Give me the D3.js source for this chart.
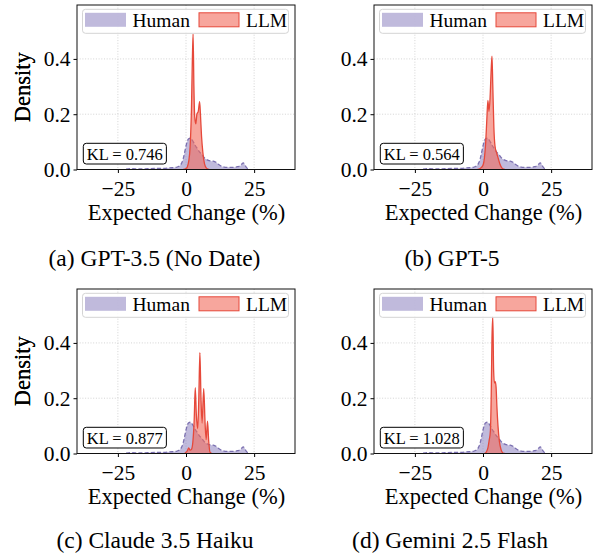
<!DOCTYPE html>
<html><head><meta charset="utf-8">
<script src="https://cdn.jsdelivr.net/npm/d3@7"></script>
<style>
body{margin:0;background:#fff}
svg{display:block}
text{font-family:"Liberation Serif","Times New Roman",Times,serif;fill:#000}
</style>
</head><body>
<svg id="c" width="595" height="553"></svg>
<script>
// ---------- data ----------
const captions = ["(a) GPT-3.5 (No Date)", "(b) GPT-5", "(c) Claude 3.5 Haiku", "(d) Gemini 2.5 Flash"];
const klValues = ["0.746", "0.564", "0.877", "1.028"];
const seriesNames = ["Human", "LLM"];
const xTicks = [-25, 0, 25];
const yTicks = [0.0, 0.2, 0.4];
const xDomain = [-40, 40];
const yDomain = [0, 0.595];

// Human density (same for every panel)
const humanX = [-22,-20,-17,-14,-11,-8,-6,-4,-3,-2,-1.5,-1,-0.5,0,0.5,1,1.5,2,2.5,3,3.5,4,4.5,5,5.5,6,7,8,9,10,11,12,13,14,15,16,17,18,19,20,20.5,21,21.5,22,22.5,23];
const humanY = [0.001,0.003,0.002,0.003,0.004,0.004,0.006,0.007,0.010,0.016,0.025,0.040,0.062,0.085,0.103,0.111,0.113,0.110,0.103,0.094,0.085,0.078,0.070,0.063,0.058,0.052,0.040,0.034,0.031,0.030,0.026,0.018,0.012,0.009,0.008,0.008,0.008,0.008,0.010,0.014,0.020,0.024,0.019,0.010,0.004,0.001];

// LLM densities
const gpt35X = [-1,0,0.5,1,1.5,2,2.3,2.6,2.9,3.2,3.6,4,4.5,5,5.3,5.7,6.2,6.8,7.5,8.5];
const gpt35Y = [0,0.003,0.01,0.03,0.08,0.22,0.38,0.49,0.30,0.19,0.165,0.20,0.21,0.245,0.20,0.12,0.06,0.02,0.005,0];
const gpt5X = [-2,-1,0,0.5,1,1.4,1.8,2.2,2.6,3.0,3.3,3.6,4.0,4.4,5.0,5.6,6.2,7.0,8];
const gpt5Y = [0,0.004,0.015,0.04,0.10,0.18,0.25,0.21,0.26,0.36,0.41,0.30,0.15,0.085,0.06,0.04,0.02,0.005,0];
const claudeX = [-0.5,0.5,1.0,1.5,2.0,2.5,3.0,3.4,3.8,4.3,4.7,5.1,5.5,5.9,6.5,7.0,7.4,7.9,8.3,8.8,9.5];
const claudeY = [0,0.01,0.02,0.012,0.015,0.04,0.12,0.238,0.14,0.09,0.2,0.365,0.2,0.11,0.235,0.11,0.05,0.117,0.05,0.005,0];
const geminiX = [0.5,1.2,1.8,2.3,2.7,3.0,3.3,3.6,3.9,4.2,4.5,4.8,5.1,5.5,6.0,6.6,7.3,8];
const geminiY = [0,0.005,0.02,0.05,0.08,0.2,0.42,0.495,0.30,0.255,0.26,0.24,0.17,0.10,0.045,0.015,0.002,0];

const llmXs = [gpt35X, gpt5X, claudeX, geminiX];
const llmYs = [gpt35Y, gpt5Y, claudeY, geminiY];

// ---------- layout / style ----------
const W = 218, H = 164.5;
const origins = [[77,5],[374,5],[77,289],[374,289]];
const captionPos = [[154.5,266],[452,266],[155,548],[450,548]];
const humanFill = "#8c82c0", humanLine = "#7b70b0";
const llmFill = "#f26b5b", llmLine = "#e6483a";

const svg = d3.select("#c");
const zip = (xs, ys) => xs.map((v,i) => [v, ys[i]]);
const human = zip(humanX, humanY);

origins.forEach((o, i) => {
  const g = svg.append("g").attr("transform", `translate(${o[0]},${o[1]})`);
  const x = d3.scaleLinear().domain(xDomain).range([0, W]);
  const y = d3.scaleLinear().domain(yDomain).range([H, 0]);

  const cid = "clip" + i;
  g.append("clipPath").attr("id", cid).append("rect").attr("width", W).attr("height", H);

  // grid
  const grid = g.append("g").attr("stroke", "#cfcfcf").attr("stroke-width", 0.9).attr("stroke-dasharray", "1,1.7");
  xTicks.forEach(t => grid.append("line").attr("x1", x(t)).attr("x2", x(t)).attr("y1", 0).attr("y2", H));
  yTicks.filter(t => t > 0).forEach(t => grid.append("line").attr("x1", 0).attr("x2", W).attr("y1", y(t)).attr("y2", y(t)));

  const plot = g.append("g").attr("clip-path", `url(#${cid})`);
  const area = d3.area().x(d => x(d[0])).y0(y(0)).y1(d => y(d[1])).curve(d3.curveMonotoneX);
  const line = d3.line().x(d => x(d[0])).y(d => y(d[1])).curve(d3.curveMonotoneX);
  const llm = zip(llmXs[i], llmYs[i]);

  plot.append("path").datum(human).attr("d", area).attr("fill", humanFill).attr("fill-opacity", 0.55);
  plot.append("path").datum(human).attr("d", line).attr("fill", "none").attr("stroke", humanLine)
      .attr("stroke-width", 1.3).attr("stroke-dasharray", "4,2.2");
  plot.append("path").datum(llm).attr("d", area).attr("fill", llmFill).attr("fill-opacity", 0.6);
  plot.append("path").datum(llm).attr("d", line).attr("fill", "none").attr("stroke", llmLine).attr("stroke-width", 1.3);

  // axes
  const xa = g.append("g").attr("transform", `translate(0,${H})`)
    .call(d3.axisBottom(x).tickValues(xTicks).tickSize(3.5).tickPadding(3)
      .tickFormat(d => d < 0 ? "\u2212" + Math.abs(d) : String(d)));
  xa.select(".domain").remove();
  xa.selectAll("text").attr("y", 26.5).attr("dy", 0).style("font-size", "21.5px").style("font-family", '"Liberation Serif",serif');
  xa.selectAll("line").attr("stroke", "#000");

  const ya = g.append("g")
    .call(d3.axisLeft(y).tickValues(yTicks).tickSize(3.5).tickPadding(3).tickFormat(d3.format(".1f")));
  ya.select(".domain").remove();
  ya.selectAll("text").style("font-size", "21.5px").style("font-family", '"Liberation Serif",serif');
  ya.selectAll("line").attr("stroke", "#000");

  // frame
  g.append("rect").attr("width", W).attr("height", H).attr("fill", "none").attr("stroke", "#111").attr("stroke-width", 1);

  // axis labels
  g.append("text").attr("transform", `translate(${29.5 - o[0]},${H/2}) rotate(-90)`)
    .attr("text-anchor", "middle").style("font-size", "22.5px").text("Density");
  g.append("text").attr("x", W/2 + 0.5).attr("y", H + 50.5).attr("text-anchor", "middle")
    .style("font-size", "22.5px").text("Expected Change (%)");

  // legend
  const lg = g.append("g").attr("transform", "translate(5.5,4.3)");
  lg.append("rect").attr("width", 206).attr("height", 24).attr("rx", 3)
    .attr("fill", "#fff").attr("fill-opacity", 0.85).attr("stroke", "#d4d4d4").attr("stroke-width", 1);
  lg.append("rect").attr("x", 2.5).attr("y", 3.5).attr("width", 41).attr("height", 14)
    .attr("fill", humanFill).attr("fill-opacity", 0.55);
  lg.append("text").attr("x", 50).attr("y", 17.3).style("font-size", "19.5px").text(seriesNames[0]);
  lg.append("rect").attr("x", 116.5).attr("y", 3.5).attr("width", 40).attr("height", 14)
    .attr("fill", llmFill).attr("fill-opacity", 0.6).attr("stroke", llmLine).attr("stroke-width", 1);
  lg.append("text").attr("x", 163.5).attr("y", 17.3).style("font-size", "19.5px").text(seriesNames[1]);

  // KL box
  const kg = g.append("g").attr("transform", `translate(6.3,${H - 26.2})`);
  const kt = kg.append("text").attr("x", 3.5).attr("y", 17).style("font-size", "16.5px").text("KL = " + klValues[i]);
  const bw = kt.node().getComputedTextLength() + 7;
  kg.insert("rect", "text").attr("width", bw).attr("height", 20.7).attr("rx", 3)
    .attr("fill", "#fff").attr("stroke", "#000").attr("stroke-width", 1);

  // caption
  svg.append("text").attr("x", captionPos[i][0]).attr("y", captionPos[i][1]).attr("text-anchor", "middle")
    .style("font-size", "23.5px").text(captions[i]);
});
</script>
</body></html>
